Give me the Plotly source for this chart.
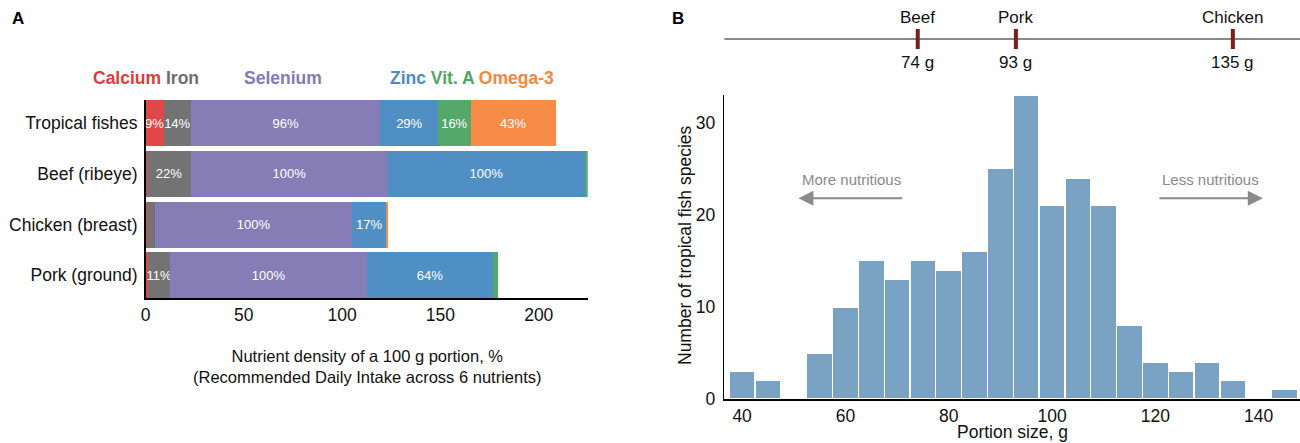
import plotly.graph_objects as go

# ---------------- Data ----------------
foods = ["Tropical fishes", "Beef (ribeye)", "Chicken (breast)", "Pork (ground)"]
nutrients = ["Calcium", "Iron", "Selenium", "Zinc", "Vit. A", "Omega-3"]
calcium = [9.3, 0.8, 0.8, 1.5]
iron = [13.8, 22.3, 4.0, 10.9]
selenium = [96.4, 100.1, 100.4, 100.4]
zinc = [29.4, 100.4, 17.1, 63.8]
vit_a = [16.4, 1.5, 0.0, 2.9]
omega3 = [43.45, 0.0, 1.2, 0.0]
nutrient_colors = ["#e04848", "#737373", "#877db6", "#4f8fc4", "#56a86a", "#f78c48"]
header_colors = ["#e23a3a", "#6e6e6e", "#8579b8", "#4a8bc6", "#4ea862", "#f5863e"]

bin_centers = [40, 45, 50, 55, 60, 65, 70, 75, 80, 85, 90, 95, 100, 105, 110,
               115, 120, 125, 130, 135, 140, 145]
species_counts = [3, 2, 0, 5, 10, 15, 13, 15, 14, 16, 25, 33, 21, 24, 21,
                  8, 4, 3, 4, 2, 0, 1]
bin_width = 5

meat_labels = ["Beef", "Pork", "Chicken"]
meat_portions = [74, 93, 135]

x_ticks_left = [0, 50, 100, 150, 200]
x_ticks_hist = [40, 60, 80, 100, 120, 140]
y_ticks_hist = [0, 10, 20, 30]

FONT = "Liberation Sans, Arial, Helvetica, sans-serif"
W, H = 1300, 443


def px(x):
    return x / W


def py(y):
    return 1 - y / H


fig = go.Figure()

# ---------------- Panel A: stacked bars ----------------
series = [calcium, iron, selenium, zinc, vit_a, omega3]
for name, vals, col in zip(nutrients, series, nutrient_colors):
    fig.add_trace(go.Bar(
        y=foods, x=vals, orientation="h", name=name,
        marker=dict(color=col, line=dict(width=0)),
        text=[f"{v:.0f}%" if v >= 5 else "" for v in vals],
        textposition="inside", insidetextanchor="middle", textangle=0,
        constraintext="none",
        textfont=dict(color="white", size=13, family=FONT),
        xaxis="x", yaxis="y", showlegend=False, hoverinfo="skip",
    ))

# ---------------- Panel B: histogram ----------------
fig.add_trace(go.Bar(
    x=bin_centers, y=species_counts, width=bin_width,
    marker=dict(color="#7aa2c3", line=dict(color="white", width=1.3)),
    xaxis="x2", yaxis="y2", showlegend=False, hoverinfo="skip",
))

# strip with meat portions
fig.add_trace(go.Scatter(
    x=meat_portions, y=[0] * len(meat_portions), mode="markers",
    marker=dict(symbol="line-ns", size=20, line=dict(color="#7a1e1e", width=4)),
    xaxis="x3", yaxis="y3", showlegend=False, hoverinfo="skip",
))

fig.update_layout(
    width=W, height=H, autosize=False,
    margin=dict(l=0, r=0, t=0, b=0, pad=0, autoexpand=False),
    paper_bgcolor="white", plot_bgcolor="white",
    barmode="stack", bargap=0.094, showlegend=False,
    font=dict(family=FONT, size=17, color="#111"),
    xaxis=dict(domain=[px(145.5), px(587.7)], range=[0, 224.9], anchor="y",
               tickvals=x_ticks_left, showgrid=False, zeroline=False,
               showline=True, linecolor="black", linewidth=1.5, automargin=False,
               ticks="", ticklen=0, ticklabelstandoff=0, tickfont=dict(size=17.5)),
    yaxis=dict(domain=[py(298.3), py(100)], range=[3.453, -0.453], anchor="x",
               categoryorder="array", categoryarray=foods, automargin=False,
               showgrid=False, zeroline=False, showline=True,
               linecolor="black", linewidth=1.5, ticks="",
               ticklabelstandoff=3, tickfont=dict(size=17.5)),
    xaxis2=dict(domain=[px(724.3), 1], range=[36.55, 148.0], anchor="y2",
                tickvals=x_ticks_hist, showgrid=False, zeroline=False,
                showline=True, linecolor="black", linewidth=1.5, automargin=False,
                ticks="", ticklen=0, ticklabelstandoff=0, tickfont=dict(size=17.5)),
    yaxis2=dict(domain=[py(399), py(95)], range=[0, 33], anchor="x2",
                tickvals=y_ticks_hist, showgrid=False, zeroline=False,
                showline=True, linecolor="black", linewidth=1.5, automargin=False,
                ticks="", ticklabelstandoff=4, tickfont=dict(size=17.5)),
    xaxis3=dict(domain=[px(724.3), 1], range=[36.55, 148.0], anchor="y3",
                visible=False, automargin=False),
    yaxis3=dict(domain=[py(49), py(29)], range=[-1, 1], anchor="x3",
                visible=False, automargin=False),
)

fig.add_shape(type="line", xref="x3 domain", yref="y3", x0=0, x1=1, y0=0, y1=0,
              line=dict(color="#8a8a8a", width=2), layer="below")

ann = []
# panel letters
ann.append(dict(x=px(17.7), y=py(18.3), xref="paper", yref="paper", text="<b>A</b>",
                showarrow=False, font=dict(size=17, color="black"),
                xanchor="center", yanchor="middle"))
ann.append(dict(x=px(678), y=py(18.3), xref="paper", yref="paper", text="<b>B</b>",
                showarrow=False, font=dict(size=17, color="black"),
                xanchor="center", yanchor="middle"))

# header for nutrients
def span(i):
    return f'<span style="color:{header_colors[i]}">{nutrients[i]}</span>'

hy = py(78)
ann.append(dict(x=px(200.7), y=hy, xref="paper", yref="paper",
                text="<b>" + span(0) + " " + span(1) + "</b>", showarrow=False,
                xanchor="right", yanchor="middle", font=dict(size=17.5)))
ann.append(dict(x=px(283), y=hy, xref="paper", yref="paper",
                text="<b>" + span(2) + "</b>", showarrow=False,
                xanchor="center", yanchor="middle", font=dict(size=17.5)))
ann.append(dict(x=px(556), y=hy, xref="paper", yref="paper",
                text="<b>" + span(3) + " " + span(4) + " " + span(5) + "</b>",
                showarrow=False, xanchor="right", yanchor="middle",
                font=dict(size=17.5)))

# left x-axis title
ann.append(dict(x=px(366.6), y=py(366), xref="paper", yref="paper",
                text="Nutrient density of a 100 g portion, %<br>(Recommended Daily Intake across 6 nutrients)",
                showarrow=False, xanchor="center", yanchor="middle",
                font=dict(size=16.5, color="#111")))

# histogram titles
ann.append(dict(x=px(1012), y=py(432), xref="paper", yref="paper",
                text="Portion size, g", showarrow=False, xanchor="center",
                yanchor="middle", font=dict(size=17.5, color="#111")))
ann.append(dict(x=px(685), y=py(245), xref="paper", yref="paper",
                text="Number of tropical fish species", showarrow=False,
                textangle=-90, xanchor="center", yanchor="middle",
                font=dict(size=17.5, color="#111")))

# arrows
ann.append(dict(x=50.9, y=21.8, ax=71.3, ay=21.8, xref="x2", yref="y2",
                axref="x2", ayref="y2", text="", showarrow=True,
                arrowhead=2, arrowsize=1.5, arrowwidth=2, arrowcolor="#8a8a8a"))
ann.append(dict(x=140.8, y=21.8, ax=120.5, ay=21.8, xref="x2", yref="y2",
                axref="x2", ayref="y2", text="", showarrow=True,
                arrowhead=2, arrowsize=1.5, arrowwidth=2, arrowcolor="#8a8a8a"))
ann.append(dict(x=61.1, y=23.8, xref="x2", yref="y2", text="More nutritious",
                showarrow=False, xanchor="center", yanchor="middle",
                font=dict(size=15, color="#8a8a8a")))
ann.append(dict(x=130.6, y=23.8, xref="x2", yref="y2", text="Less nutritious",
                showarrow=False, xanchor="center", yanchor="middle",
                font=dict(size=15, color="#8a8a8a")))

# strip labels
for lab, v in zip(meat_labels, meat_portions):
    ann.append(dict(x=v, y=py(18), xref="x3", yref="paper", text=lab,
                    showarrow=False, xanchor="center", yanchor="middle",
                    font=dict(size=17, color="#111")))
    ann.append(dict(x=v, y=py(62), xref="x3", yref="paper", text=f"{v} g",
                    showarrow=False, xanchor="center", yanchor="middle",
                    font=dict(size=17, color="#111")))

fig.update_layout(annotations=ann)
fig.write_html(
    "out.html",
    config={"displayModeBar": False, "staticPlot": True},
    post_script=(
        "document.documentElement.style.margin='0';"
        "document.body.style.margin='0';document.body.style.padding='0';"
    ),
)
